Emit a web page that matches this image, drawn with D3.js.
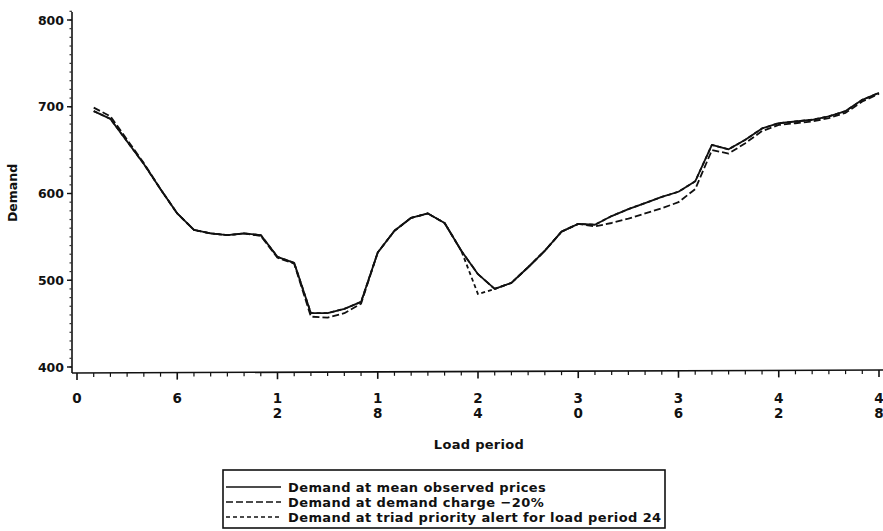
<!DOCTYPE html>
<html>
<head>
<meta charset="utf-8">
<script src="https://cdn.jsdelivr.net/npm/d3@7"></script>
<style>
  body { margin: 0; background: #fff; }
  svg text { font-family: "DejaVu Sans", sans-serif; font-weight: bold; fill: #111; }
</style>
</head>
<body>
<svg width="883" height="531"></svg>
<script>
// load periods (half hours) 1..48
const periods = d3.range(1, 49);

// demand at mean observed prices
const meanPrices = [695, 686, 660, 634, 605, 577, 558, 554, 552, 554, 552, 527,
  520, 462, 462, 467, 475, 532, 557, 572, 577, 566, 534, 507,
  490, 497, 515, 534, 556, 565, 564, 574, 582, 589, 596, 602,
  614, 656, 651, 662, 675, 681, 683, 685, 689, 695, 708, 716];

// demand at demand charge -20%
const chargeMinus20 = [699, 689, 662, 635, 605, 577, 558, 554, 552, 554, 551, 526,
  519, 458, 457, 462, 473, 532, 557, 572, 577, 566, 534, 507,
  490, 497, 515, 534, 556, 565, 562, 566, 571, 577, 583, 590,
  605, 650, 646, 658, 672, 679, 681, 683, 687, 693, 706, 715];

// demand at triad priority alert for load period 24
const triadAlert = [695, 686, 660, 634, 605, 577, 558, 554, 552, 554, 552, 527,
  520, 462, 462, 467, 475, 532, 557, 572, 577, 566, 534, 484,
  490, 497, 515, 534, 556, 565, 564, 574, 582, 589, 596, 602,
  614, 656, 651, 662, 675, 681, 683, 685, 689, 695, 708, 716];

const xTicks = [0, 6, 12, 18, 24, 30, 36, 42, 48];
const yTicks = [400, 500, 600, 700, 800];

const legendLabels = [
  "Demand at mean observed prices",
  "Demand at demand charge \u221220%",
  "Demand at triad priority alert for load period 24"
];
const dashes = [null, "7,3", "4,3"];

const svg = d3.select("svg");

const x = d3.scaleLinear().domain([0, 48]).range([77, 879]);
const y = d3.scaleLinear().domain([400, 800]).range([367, 20]);

const axisX0 = 72, axisY0 = 373;

// y axis
const gy = svg.append("g");
gy.append("line")
  .attr("x1", axisX0).attr("x2", axisX0)
  .attr("y1", axisY0).attr("y2", 12)
  .attr("stroke", "#111").attr("stroke-width", 1.6);
gy.selectAll(".minor")
  .data(d3.range(400, 811, 10))
  .join("line")
  .attr("x1", axisX0 - 2.5).attr("x2", axisX0)
  .attr("y1", d => y(d)).attr("y2", d => y(d))
  .attr("stroke", "#333").attr("stroke-width", 1.2);
gy.selectAll(".major")
  .data(yTicks)
  .join("line")
  .attr("x1", axisX0 - 5).attr("x2", axisX0)
  .attr("y1", d => y(d)).attr("y2", d => y(d))
  .attr("stroke", "#111").attr("stroke-width", 1.4);
gy.selectAll("text")
  .data(yTicks)
  .join("text")
  .attr("x", axisX0 - 8)
  .attr("y", d => y(d) + 4.5)
  .attr("text-anchor", "end")
  .attr("font-size", 12.5)
  .text(d => d);

svg.append("text")
  .attr("transform", `translate(17,193) rotate(-90)`)
  .attr("text-anchor", "middle")
  .attr("font-size", 12.5)
  .text("Demand");

// x axis
const gx = svg.append("g");
gx.append("line")
  .attr("x1", axisX0).attr("x2", 883)
  .attr("y1", axisY0).attr("y2", axisY0 - 3)
  .attr("stroke", "#111").attr("stroke-width", 1.6);
const tilt = d => axisY0 - 3 * (x(d) - axisX0) / (883 - axisX0);
gx.selectAll(".minor")
  .data(d3.range(0, 49))
  .join("line")
  .attr("x1", d => x(d)).attr("x2", d => x(d))
  .attr("y1", d => tilt(d)).attr("y2", d => tilt(d) + (d % 6 === 0 ? 7 : 4))
  .attr("stroke", "#111").attr("stroke-width", d => d % 6 === 0 ? 1.6 : 1.2);

// stacked digit labels
const xl = gx.selectAll(".xl")
  .data(xTicks)
  .join("text")
  .attr("text-anchor", "middle")
  .attr("font-size", 13.5);
xl.selectAll("tspan")
  .data(d => String(d).split("").map(c => ({ c, v: d })))
  .join("tspan")
  .attr("x", d => x(d.v))
  .attr("y", (d, i) => 403 + i * 15)
  .text(d => d.c);

svg.append("text")
  .attr("x", 479).attr("y", 449)
  .attr("text-anchor", "middle")
  .attr("font-size", 13)
  .attr("letter-spacing", 0.3)
  .text("Load period");

// lines
const line = d3.line()
  .x((d, i) => x(periods[i]))
  .y(d => y(d));

[meanPrices, chargeMinus20, triadAlert].forEach((s, k) => {
  svg.append("path")
    .datum(s)
    .attr("d", line)
    .attr("fill", "none")
    .attr("stroke", "#111")
    .attr("stroke-width", 1.8)
    .attr("stroke-linejoin", "round")
    .attr("stroke-dasharray", dashes[k]);
});

// legend
const lg = svg.append("g");
lg.append("rect")
  .attr("x", 223).attr("y", 470)
  .attr("width", 442).attr("height", 58)
  .attr("fill", "none")
  .attr("stroke", "#111").attr("stroke-width", 1.6);
legendLabels.forEach((t, i) => {
  const yy = 487 + i * 15;
  lg.append("line")
    .attr("x1", 226).attr("x2", 281)
    .attr("y1", yy).attr("y2", yy)
    .attr("stroke", "#111").attr("stroke-width", 1.5)
    .attr("stroke-dasharray", dashes[i]);
  lg.append("text")
    .attr("x", 288).attr("y", yy + 4.5)
    .attr("font-size", 13)
    .attr("letter-spacing", 0.4)
    .text(t);
});
</script>
</body>
</html>
